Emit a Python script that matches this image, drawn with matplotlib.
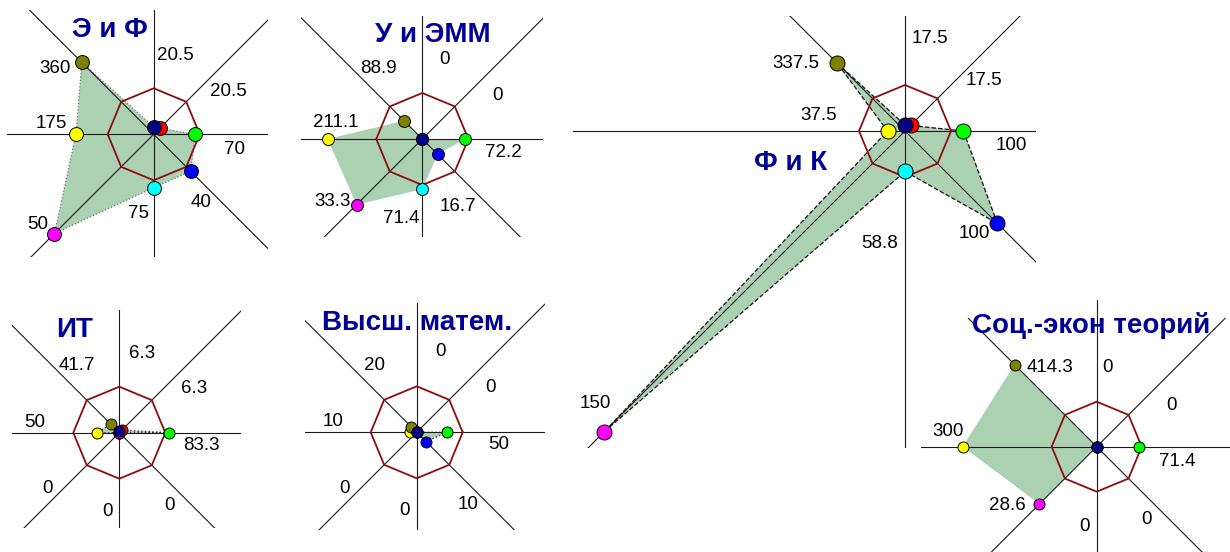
import numpy as np
import matplotlib
matplotlib.use('Agg')
import matplotlib.pyplot as plt

W, H = 1230, 552

# ---------------- data ----------------
directions = ['N', 'NE', 'E', 'SE', 'S', 'SW', 'W', 'NW']
angles_deg = [90, 45, 0, -45, -90, -135, 180, 135]
point_colors = ['#000080', '#ff0000', '#00ff00', '#0000ff',
                '#00ffff', '#ff00ff', '#ffff00', '#808000']

titles = ['Э и Ф', 'У и ЭММ', 'Ф и К', 'ИТ', 'Высш. матем.', 'Соц.-экон теорий']

# plotted radial positions (octagon = 100), order N, NE, E, SE, S, SW, W, NW
ef_radius = [16, 19, 90, 114, 116, 305, 169, 221]
uemm_radius = [0, 0, 93, 47, 109, 202, 206, 56]
fk_radius = [13, 17, 127, 284, 88, 925, 38, 209]
it_radius = [4, 8, 109, 0, 0, 0, 49, 26]
vm_radius = [0, 0, 65, 29, 0, 0, 15, 17]
set_radius = [0, 0, 93, 0, 0, 180, 298, 258]

# value labels, order N, NE, E, SE, S, SW, W, NW
ef_labels = [20.5, 20.5, 70, 40, 75, 50, 175, 360]
uemm_labels = [0, 0, 72.2, 16.7, 71.4, 33.3, 211.1, 88.9]
fk_labels = [17.5, 17.5, 100, 100, 58.8, 150, 37.5, 337.5]
it_labels = [6.3, 6.3, 83.3, 0, 0, 0, 50, 41.7]
vm_labels = [0, 0, 50, 10, 0, 0, 10, 20]
set_labels = [0, 0, 71.4, 0, 0, 28.6, 300, 414.3]

radii = [ef_radius, uemm_radius, fk_radius, it_radius, vm_radius, set_radius]
labels = [ef_labels, uemm_labels, fk_labels, it_labels, vm_labels, set_labels]

# ---------------- layout (pixels) ----------------
layouts = [
    dict(c=(153.7, 134.3), box=(7, 268, 10, 257), r=46, diag=176, ms=10.0,
         edge=dict(edgecolor='#777777', linestyle=':', linewidth=0.9),
         lab=[(22, -79), (75, -43), (81, 15), (47, 68), (-15, 79), (-116, 90), (-102, -11), (-99, -66)],
         title=(-44, -104)),
    dict(c=(422.3, 139), box=(300.7, 543, 16, 237), r=46, diag=176, ms=8.6,
         edge=dict(edgecolor='none'),
         lab=[(21.7, -79.7), (75, -44), (81, 13.7), (36, 67.7), (-20.7, 79.3), (-89.7, 62.7), (-86.3, -16.3), (-44, -70.7)],
         title=(11, -104)),
    dict(c=(905, 131), box=(573.3, 1036, 16, 448), r=46, diag=2000, ms=10.8,
         edge=dict(edgecolor='#111111', linestyle='--', linewidth=0.9),
         lab=[(25, -92.7), (79.3, -50.3), (106.7, 14), (69, 102.3), (-25, 112), (-310, 273), (-86, -15), (-109, -67)],
         title=(-114, 32.3)),
    dict(c=(119.3, 432.7), box=(11.7, 240.7, 309.5, 528.3), r=46, diag=2000, ms=7.9,
         edge=dict(edgecolor='#333333', linestyle=':', linewidth=1.0),
         lab=[(23, -79.3), (75, -44.3), (81.7, 12.3), (50, 72.3), (-12, 79), (-72, 55.7), (-85, -10.3), (-42, -66.7)],
         title=(-44.3, -102.7)),
    dict(c=(416.7, 432.3), box=(305, 545, 303.3, 530), r=46, diag=2000, ms=7.9,
         edge=dict(edgecolor='#333333', linestyle=':', linewidth=1.0),
         lab=[(23.3, -80.7), (74.3, -45), (82.3, 11.7), (51, 71.7), (-11.7, 78.3), (-72.7, 56), (-84, -10.7), (-42.3, -67.3)],
         title=(0, -109)),
    dict(c=(1096.7, 446.7), box=(920.7, 1230, 300, 552), r=45, diag=182, ms=7.9,
         edge=dict(edgecolor='none'),
         lab=[(10.7, -79), (75, -41.7), (80.7, 15), (49.3, 73.3), (-11.7, 80), (-89.3, 58.3), (-149, -15), (-46.7, -79.3)],
         title=(-5.3, -121)),
]

FILL = '#abd0b2'
OCT = '#8b0d0d'
AXC = '#1a1a1a'
TITLE_C = '#000099'
FONT = 'Liberation Sans'

fig = plt.figure(figsize=(W / 100, H / 100), dpi=100)
fig.patch.set_facecolor('white')

ang = np.deg2rad(angles_deg)
draw_order = [6, 7, 2, 3, 4, 5, 1, 0]

for title, rad, labs, L in zip(titles, radii, labels, layouts):
    cx, cy = L['c']
    l, r, t, b = L['box']
    s = L['r'] / 100.0
    ax = fig.add_axes([l / W, 1 - b / H, (r - l) / W, (b - t) / H])
    ax.set_xlim((l - cx) / s, (r - cx) / s)
    ax.set_ylim((cy - b) / s, (cy - t) / s)
    ax.axis('off')

    # filled polygon
    rv = np.array(rad, dtype=float)
    px = rv * np.cos(ang)
    py = rv * np.sin(ang)
    ax.fill(px, py, facecolor=FILL, zorder=1, clip_on=False, **L['edge'])

    # axis rays
    for a, d in zip(ang, directions):
        length = 5000 if len(d) == 1 else L['diag'] / s
        ax.plot([0, length * np.cos(a)], [0, length * np.sin(a)],
                color=AXC, lw=0.8, zorder=2, solid_capstyle='butt')

    # reference octagon (100)
    oa = np.deg2rad(np.arange(0, 361, 45))
    ax.plot(100 * np.cos(oa), 100 * np.sin(oa), color=OCT, lw=1.3, zorder=3)

    # points
    for k, i in enumerate(draw_order):
        ax.plot(px[i], py[i], 'o', ms=L['ms'], mfc=point_colors[i], mec='black',
                mew=0.7, zorder=4 + k * 0.01, clip_on=False)

    # value labels
    for v, (dx, dy) in zip(labs, L['lab']):
        ax.text(dx / s, -dy / s, f'{v:g}', ha='center', va='center',
                fontsize=13.5, family=FONT, color='black', zorder=6, clip_on=False)

    tx, ty = L['title']
    ax.text(tx / s, -ty / s, title, ha='center', va='center', fontsize=20,
            family=FONT, fontweight='bold', color=TITLE_C, zorder=7, clip_on=False)

fig.savefig('out.png', dpi=100, facecolor='white')
